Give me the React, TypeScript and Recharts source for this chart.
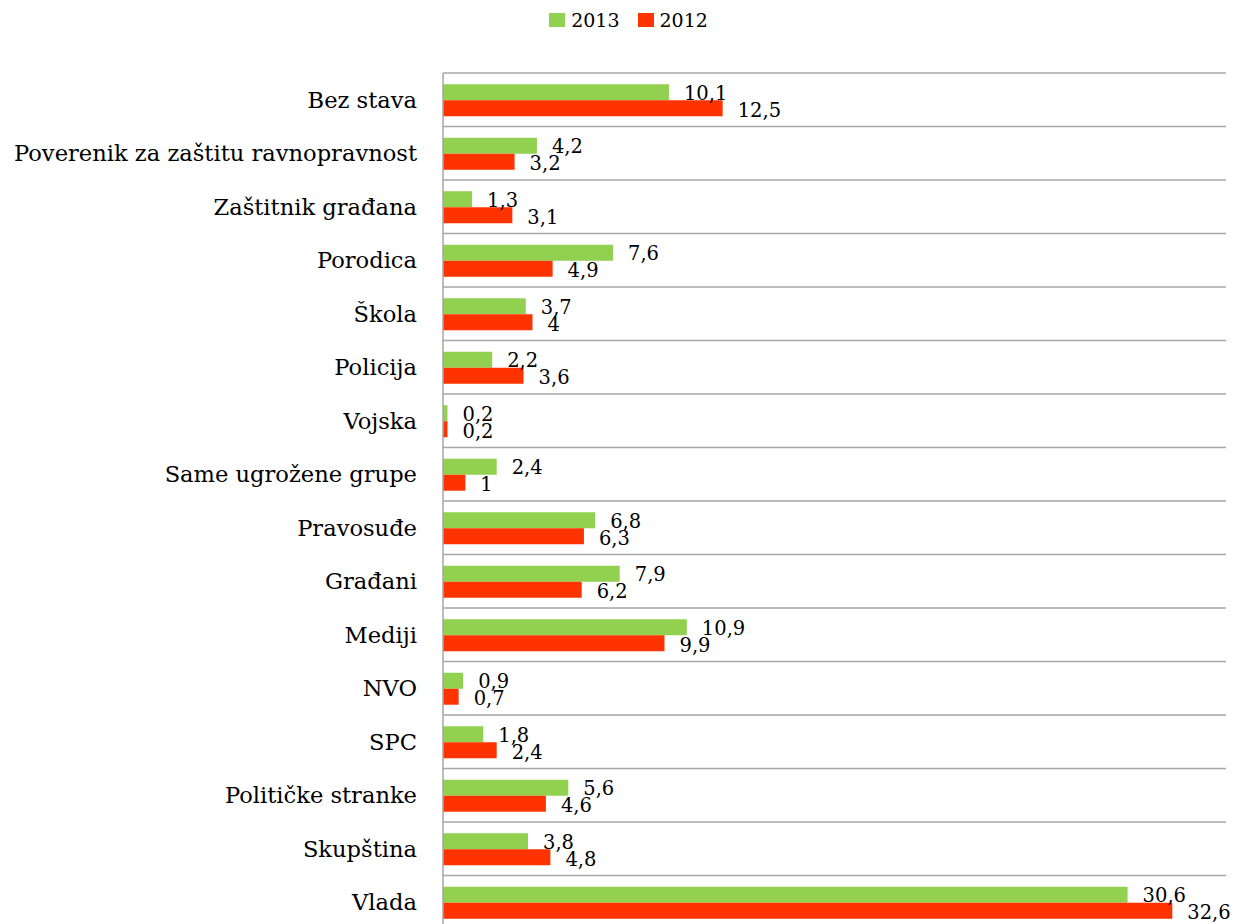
import React from 'react';
import { BarChart, Bar, XAxis, YAxis, CartesianGrid, Legend, LabelList } from 'recharts';

const categories = [
  'Bez stava',
  'Poverenik za zaštitu ravnopravnost',
  'Zaštitnik građana',
  'Porodica',
  'Škola',
  'Policija',
  'Vojska',
  'Same ugrožene grupe',
  'Pravosuđe',
  'Građani ',
  'Mediji',
  'NVO',
  'SPC',
  'Političke stranke',
  'Skupština',
  'Vlada',
];
const values2013 = [10.1, 4.2, 1.3, 7.6, 3.7, 2.2, 0.2, 2.4, 6.8, 7.9, 10.9, 0.9, 1.8, 5.6, 3.8, 30.6];
const values2012 = [12.5, 3.2, 3.1, 4.9, 4, 3.6, 0.2, 1, 6.3, 6.2, 9.9, 0.7, 2.4, 4.6, 4.8, 32.6];
const seriesNames = ['2013', '2012'];
const xDomain = [0, 35];

const GREEN = '#92D050';
const RED = '#FF3300';
const FONT = '"DejaVu Serif", serif';

const data = categories.map((name, i) => ({ name, y2013: values2013[i], y2012: values2012[i] }));

const fmt = (v: number) => String(v).replace('.', ',');

const makeLabel = (dy: number) => (props: any) => {
  const { x, y, width, height, value } = props;
  return (
    <text
      x={x + width + 15}
      y={y + height / 2 + dy}
      dominantBaseline="central"
      fill="#000"
      fontSize={19.5}
      fontFamily={FONT}
    >
      {fmt(value)}
    </text>
  );
};

const renderLegend = () => (
  <div style={{ display: 'flex', justifyContent: 'center', alignItems: 'center', fontFamily: FONT, fontSize: 19, color: '#000', height: 22, lineHeight: '22px', paddingLeft: 10 }}>
    {[GREEN, RED].map((c, i) => (
      <div key={i} style={{ display: 'flex', alignItems: 'center', marginLeft: i ? 18 : 0 }}>
        <span style={{ display: 'inline-block', width: 16, height: 14, background: c, marginRight: 6 }} />
        <span>{seriesNames[i]}</span>
      </div>
    ))}
  </div>
);

export default function App() {
  return (
    <div style={{ position: 'absolute', left: 0, top: 0, width: 1247, height: 924, overflow: 'hidden', background: '#fff' }}>
      <BarChart
        width={1247}
        height={940}
        data={data}
        layout="vertical"
        margin={{ top: 51, right: 21, bottom: 11, left: 0 }}
        barCategoryGap="21%"
        barGap={0}
      >
        <CartesianGrid
          vertical={false}
          stroke="#A6A6A6"
          strokeWidth={1.5}
          horizontalCoordinatesGenerator={({ offset }: any) =>
            categories.map((_, i) => offset.top + (i * offset.height) / categories.length)
          }
        />
        <XAxis type="number" domain={xDomain} hide />
        <YAxis
          type="category"
          dataKey="name"
          width={443}
          axisLine={{ stroke: '#A6A6A6', strokeWidth: 1.5 }}
          tickLine={false}
          tickSize={0}
          tickMargin={26}
          interval={0}
          tick={{ fill: '#000', fontSize: 22.6, fontFamily: FONT }}
        />
        <Legend verticalAlign="top" wrapperStyle={{ top: 9, left: 0, width: 1247 }} content={renderLegend} />
        <Bar dataKey="y2013" name="2013" fill={GREEN} isAnimationActive={false}>
          <LabelList dataKey="y2013" content={makeLabel(1)} />
        </Bar>
        <Bar dataKey="y2012" name="2012" fill={RED} isAnimationActive={false}>
          <LabelList dataKey="y2012" content={makeLabel(2)} />
        </Bar>
      </BarChart>
    </div>
  );
}
